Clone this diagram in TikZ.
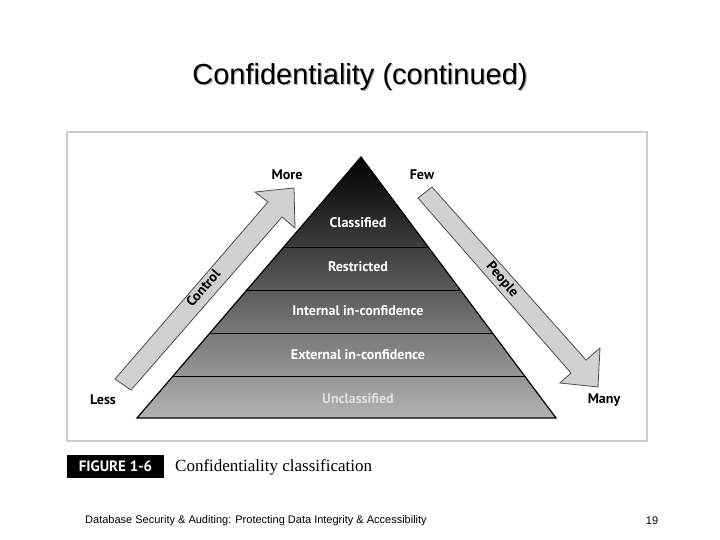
\documentclass[tikz,border=0pt]{standalone}
\usepackage{fontspec}
\setmainfont{Liberation Sans}
\newfontfamily\fig{PT Sans}
\newfontfamily\capf{Liberation Serif}
\begin{document}
\begin{tikzpicture}[x=1pt,y=-1pt,
  lvl/.style={font=\fig\bfseries\fontsize{14}{16}\selectfont,text=white,inner sep=0},
  lab/.style={font=\fig\bfseries\fontsize{14}{16}\selectfont,inner sep=0},
  arr/.style={fill=black!18,draw=black!70,line width=0.8pt,line join=miter}]
\useasboundingbox (0,0) rectangle (720,540);
\node[font=\fontsize{29}{32}\selectfont,text=black!30] at (361.2,78.2) {Confidentiality (continued)};
\node (title)[font=\fontsize{29}{32}\selectfont] at (360,77) {Confidentiality (continued)};
\draw[draw=black!20,line width=1.5pt] (67,132) rectangle (647,441);
% pyramid
\shade[top color=black,bottom color=black!30] (361,157) -- (556,418) -- (137,418) -- cycle;
\draw[line width=1.2pt,line join=miter] (361,157) -- (556,418) -- (137,418) -- cycle;
\foreach \y in {247,290,333,376}{
  \draw[line width=1pt] ({361-(\y-157)/261*224},\y) -- ({361+(\y-157)/261*195},\y);}
\node[lvl] (c1) at (358,223) {Classified};
\node[lvl] (c2) at (358,267) {Restricted};
\node[lvl] (c3) at (358,311) {Internal in-confidence};
\node[lvl] (c4) at (358,355) {External in-confidence};
\node[lvl,text=black!12] (c5) at (358,399) {Unclassified};
% arrows
\draw[arr] (115,379) -- (268,202) -- (255,192) -- (294,188) -- (295,228) -- (282,217) -- (131,390) -- cycle;
\draw[arr] (418,198) -- (571,373) -- (560,383) -- (598,387) -- (600,348) -- (586,360) -- (432,187) -- cycle;
\node[lab,rotate=49] (ctl) at (203,288) {Control};
\node[lab,rotate=-49] (ppl) at (502,280) {People};
\node[lab] (more) at (287,175) {More};
\node[lab] (few) at (422,175) {Few};
\node[lab] (less) at (103,400) {Less};
\node[lab] (many) at (604,400) {Many};
% caption
\fill[black] (67,455) rectangle (164,478);
\node[font=\fig\bfseries\fontsize{15}{16}\selectfont,text=white] (fig) at (115.5,466.5) {FIGURE 1-6};
\node[font=\capf\fontsize{17}{18}\selectfont,anchor=west,inner sep=0] (cap) at (175,467) {Confidentiality classification};
% footer
\node[font=\fontsize{11}{13}\selectfont,anchor=west,inner sep=0] (foot) at (85,521) {Database Security \& Auditing: Protecting Data Integrity \& Accessibility};
\node[font=\fontsize{11}{13}\selectfont,inner sep=0] (pg) at (652,521) {19};
\end{tikzpicture}
\end{document}
